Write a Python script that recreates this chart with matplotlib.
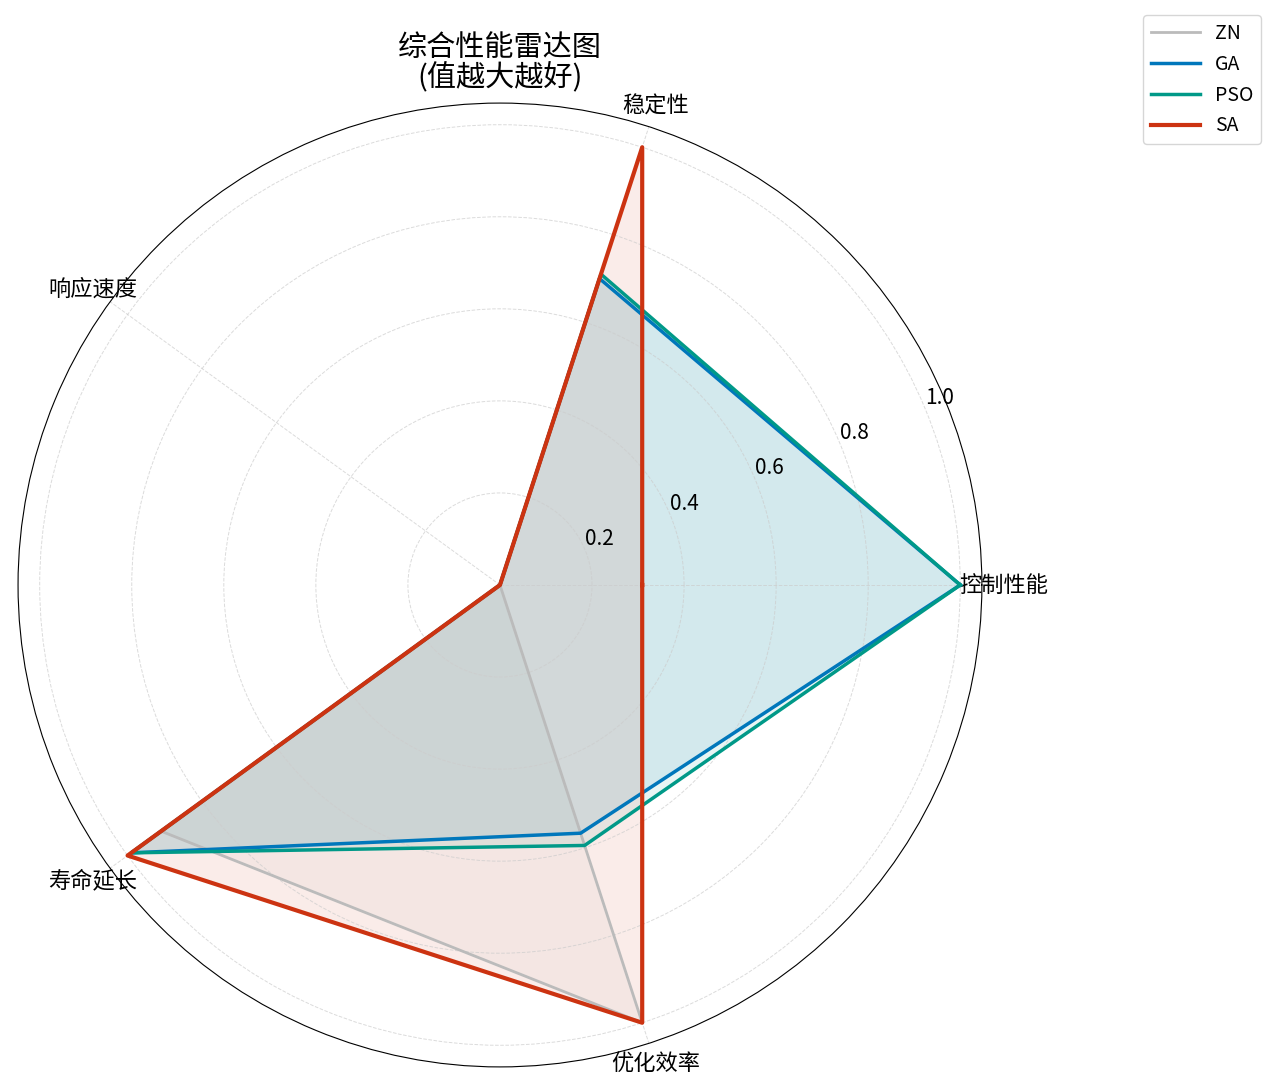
import numpy as np
import matplotlib
matplotlib.use('Agg')
import matplotlib.pyplot as plt

plt.rcParams['font.family'] = ['Noto Sans CJK SC', 'DejaVu Sans']
plt.rcParams['axes.unicode_minus'] = False

# 指标与各算法归一化得分
metrics = ['控制性能', '稳定性', '响应速度', '寿命延长', '优化效率']
methods = ['ZN', 'GA', 'PSO', 'SA']
zn_scores = [0.0, 0.0, 0.0, 0.91, 1.0]
ga_scores = [1.0, 0.70, 0.0, 0.99, 0.567]
pso_scores = [1.0, 0.71, 0.0, 0.99, 0.595]
sa_scores = [0.309, 1.0, 0.0, 1.0, 1.0]
colors = ['#BBBBBB', '#0077BB', '#009988', '#CC3311']
widths = [2.0, 2.5, 2.5, 3.0]

angles = np.linspace(0, 2 * np.pi, len(metrics), endpoint=False)
angles_closed = np.concatenate([angles, angles[:1]])

fig = plt.figure(figsize=(12.8, 10.91), dpi=100)
ax = fig.add_axes([0.0141, 0.022, 0.753, 0.8836], projection='polar')

for name, vals, c, lw in zip(methods, [zn_scores, ga_scores, pso_scores, sa_scores], colors, widths):
    v = np.concatenate([vals, vals[:1]])
    ax.plot(angles_closed, v, color=c, linewidth=lw, label=name)
    ax.fill(angles_closed, v, color=c, alpha=0.09)

ax.set_ylim(0, 1.047)
ax.set_yticks([0.2, 0.4, 0.6, 0.8, 1.0])
ax.set_yticklabels(['0.2', '0.4', '0.6', '0.8', '1.0'], fontsize=15)
ax.set_xticks(angles)
ax.set_xticklabels(metrics, fontsize=16)
ax.tick_params(axis='x', pad=5)
ax.grid(True, linestyle='--', linewidth=0.7, color='#cccccc', alpha=0.7)

# 标题（用 fig.text 固定位置）
fig.text(0.3906, 0.942, '综合性能雷达图\n(值越大越好)', fontsize=21,
         ha='center', va='center', linespacing=1.0)

ax.legend(loc='upper right', bbox_to_anchor=(1.3, 1.101), fontsize=14, handlelength=2.5)

fig.savefig('out.png', dpi=100)
